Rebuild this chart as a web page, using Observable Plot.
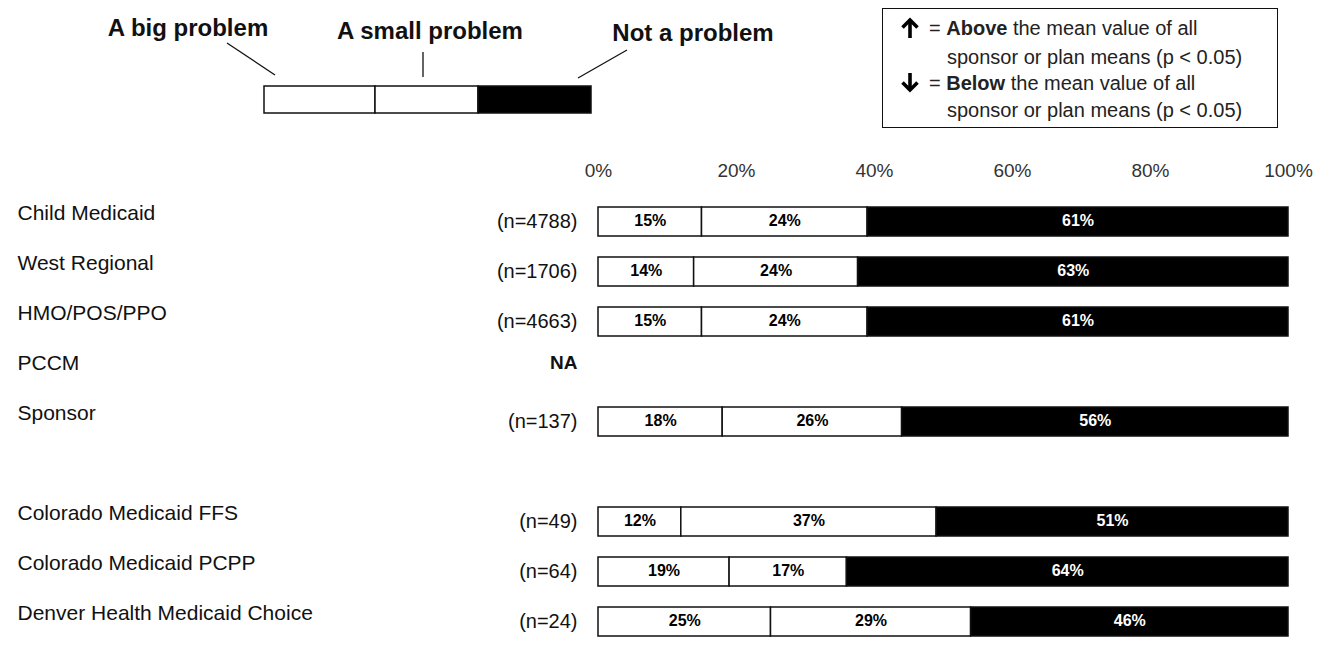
<!DOCTYPE html>
<html>
<head>
<meta charset="utf-8">
<script src="https://cdn.jsdelivr.net/npm/d3@7"></script>
<script src="https://cdn.jsdelivr.net/npm/@observablehq/plot@0.6"></script>
<style>
  body { margin: 0; background: #fff; }
  #wrap { position: relative; width: 1329px; height: 646px; overflow: hidden; font-family: Arial, "Liberation Sans", sans-serif; color: #111; }
  #chart { position: absolute; left: 0; top: 0; }
  #legendSvg { position: absolute; left: 0; top: 0; }
  .lg { position: absolute; font-weight: bold; font-size: 24px; white-space: nowrap; transform: translate(-50%, -50%); line-height: 1; }
  #box { position: absolute; left: 882px; top: 8px; width: 396px; height: 120px; border: 1.5px solid #111; box-sizing: border-box; }
  .bt { position: absolute; font-size: 20px; white-space: nowrap; line-height: 1; transform: translateY(-50%); color: #222; }
</style>
</head>
<body>
<div id="wrap">
  <div id="chart"></div>
  <svg id="legendSvg" width="1329" height="140">
    <line x1="227" y1="43" x2="275" y2="75" stroke="#111" stroke-width="1.3"/>
    <line x1="423" y1="52" x2="423" y2="77" stroke="#111" stroke-width="1.3"/>
    <line x1="627" y1="50" x2="578" y2="78" stroke="#111" stroke-width="1.3"/>
    <rect x="264" y="86" width="111" height="27" fill="#fff" stroke="#111" stroke-width="1.5"/>
    <rect x="375" y="86" width="103" height="27" fill="#fff" stroke="#111" stroke-width="1.5"/>
    <rect x="478" y="86" width="113" height="27" fill="#000" stroke="#111" stroke-width="1.5"/>
    <g fill="none" stroke="#000" stroke-width="3.6" stroke-linecap="butt" stroke-linejoin="miter">
      <path d="M910 38 V21"/>
      <path d="M902.5 27.5 L910 20 L917.5 27.5"/>
      <path d="M910 73 V90"/>
      <path d="M902.5 82.5 L910 90 L917.5 82.5"/>
    </g>
  </svg>
  <div class="lg" style="left:188px;top:28px;">A big problem</div>
  <div class="lg" style="left:430px;top:31px;">A small problem</div>
  <div class="lg" style="left:693px;top:33px;">Not a problem</div>
  <div id="box"></div>
  <div class="bt" style="left:929px;top:28px;">= <b>Above</b> the mean value of all</div>
  <div class="bt" style="left:947px;top:57px;">sponsor or plan means (p &lt; 0.05)</div>
  <div class="bt" style="left:929px;top:83px;">= <b>Below</b> the mean value of all</div>
  <div class="bt" style="left:947px;top:110px;">sponsor or plan means (p &lt; 0.05)</div>
</div>
<script>
const categories = ["Child Medicaid", "West Regional", "HMO/POS/PPO", "PCCM", "Sponsor",
  "Colorado Medicaid FFS", "Colorado Medicaid PCPP", "Denver Health Medicaid Choice"];
const sampleSizes = ["(n=4788)", "(n=1706)", "(n=4663)", null, "(n=137)", "(n=49)", "(n=64)", "(n=24)"];
const bigProblem   = [15, 14, 15, null, 18, 12, 19, 25];
const smallProblem = [24, 24, 24, null, 26, 37, 17, 29];
const notProblem   = [61, 63, 61, null, 56, 51, 64, 46];
const responses = ["A big problem", "A small problem", "Not a problem"];
const xTicks = [0, 20, 40, 60, 80, 100];

const spacer = "\u2003";
const yDomain = [...categories.slice(0, 5), spacer, ...categories.slice(5)];

const seriesValues = [bigProblem, smallProblem, notProblem];
const segments = [];
categories.forEach((c, i) => {
  responses.forEach((r, j) => {
    const v = seriesValues[j][i];
    if (v != null) segments.push({row: c, response: r, value: v});
  });
});
const rowInfo = categories.map((c, i) => ({row: c, n: sampleSizes[i]}));

const segFill = d => d.response === "Not a problem" ? "black" : "white";
const txtFill = d => d.response === "Not a problem" ? "white" : "black";

const chart = Plot.plot({
  width: 1329,
  height: 646,
  marginLeft: 598,
  marginRight: 41,
  marginTop: 198,
  marginBottom: 2,
  style: {fontFamily: "Arial, 'Liberation Sans', sans-serif", background: "transparent", overflow: "visible"},
  x: {domain: [0, 1], axis: null},
  y: {domain: yDomain, type: "band", paddingInner: 0.43, paddingOuter: 0.1, axis: null},
  marks: [
    Plot.axisX({
      anchor: "top",
      ticks: xTicks.map(d => d / 100),
      tickFormat: d => `${Math.round(d * 100)}%`,
      tickSize: 0,
      tickPadding: 22,
      fontSize: 19,
      fill: "#333",
      label: null
    }),
    Plot.barX(segments, Plot.stackX({
      offset: "normalize",
      x: "value",
      y: "row",
      z: "response",
      order: responses,
      fill: segFill,
      stroke: "#111",
      strokeWidth: 1.5
    })),
    Plot.text(segments, Plot.stackX({
      offset: "normalize",
      x: "value",
      y: "row",
      z: "response",
      order: responses,
      text: d => `${d.value}%`,
      fill: txtFill,
      fontWeight: "bold",
      fontSize: 16,
      dy: -1
    })),
    Plot.text(rowInfo, {
      y: "row",
      text: "row",
      frameAnchor: "left",
      textAnchor: "start",
      dx: 17 - 598,
      dy: -9,
      fontSize: 21,
      fill: "#111"
    }),
    Plot.text(rowInfo.filter(d => d.n != null), {
      y: "row",
      text: "n",
      frameAnchor: "left",
      textAnchor: "end",
      dx: -21,
      fontSize: 20,
      fill: "#111"
    }),
    Plot.text(rowInfo.filter(d => d.n == null), {
      y: "row",
      text: () => "NA",
      frameAnchor: "left",
      textAnchor: "end",
      dx: -21,
      dy: -9,
      fontSize: 19,
      fontWeight: "bold",
      fill: "#111"
    })
  ]
});
document.getElementById("chart").appendChild(chart);
</script>
</body>
</html>
